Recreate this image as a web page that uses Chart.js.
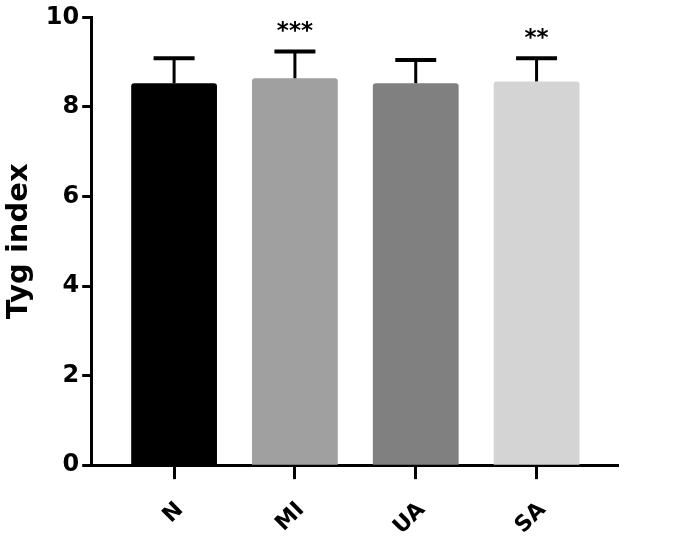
<!DOCTYPE html>
<html>
<head>
<meta charset="utf-8">
<script src="https://cdn.jsdelivr.net/npm/chart.js@4"></script>
<style>
html,body{margin:0;padding:0;background:#fff;}
#wrap{width:685px;height:545px;position:relative;}
</style>
</head>
<body>
<div id="wrap"><canvas id="c" width="685" height="545"></canvas></div>
<script>
const categories = ["N", "MI", "UA", "SA"];
const means = [8.53, 8.64, 8.53, 8.57];
const errUpper = [9.09, 9.24, 9.05, 9.09];
const significance = ["", "***", "", "**"];
const barColors = ["#000000", "#a0a0a0", "#808080", "#d4d4d4"];
const yTicks = [0, 2, 4, 6, 8, 10];

const FONT = "'DejaVu Sans', sans-serif";

const errorBarPlugin = {
  id: 'errorBars',
  afterDatasetsDraw(chart) {
    const ctx = chart.ctx;
    const meta = chart.getDatasetMeta(0);
    const yScale = chart.scales.y;
    ctx.save();
    ctx.strokeStyle = '#000';
    meta.data.forEach((bar, i) => {
      const x = bar.x;
      const yTop = yScale.getPixelForValue(errUpper[i]);
      const yBar = yScale.getPixelForValue(means[i]);
      ctx.lineWidth = 3;
      ctx.beginPath();
      ctx.moveTo(x, yBar);
      ctx.lineTo(x, yTop);
      ctx.stroke();
      ctx.lineWidth = 4;
      ctx.beginPath();
      ctx.moveTo(x - 20.5, yTop);
      ctx.lineTo(x + 20.5, yTop);
      ctx.stroke();
      if (significance[i]) {
        ctx.fillStyle = '#000';
        ctx.font = "bold 23px " + FONT;
        ctx.textAlign = 'center';
        ctx.textBaseline = 'alphabetic';
        ctx.fillText(significance[i], x, yTop - 13);
      }
    });
    ctx.restore();
  }
};

new Chart(document.getElementById('c'), {
  type: 'bar',
  data: {
    datasets: [{
      data: categories.map((c, i) => ({ x: i, y: means[i] })),
      backgroundColor: barColors,
      borderWidth: 0,
      borderRadius: 3,
      borderSkipped: 'bottom',
      categoryPercentage: 1,
      barPercentage: 0.71
    }]
  },
  options: {
    responsive: false,
    animation: false,
    devicePixelRatio: 1,
    layout: { padding: { top: -2, right: 67, left: 2, bottom: -13 } },
    plugins: { legend: { display: false }, tooltip: { enabled: false } },
    scales: {
      x: {
        type: 'linear',
        offset: false,
        min: -0.686,
        max: 3.674,
        afterBuildTicks(scale) { scale.ticks = categories.map((c, i) => ({ value: i })); },
        ticks: {
          callback: (v) => categories[v],
          autoSkip: false,
          maxRotation: 45,
          minRotation: 45,
          color: '#000',
          font: { family: FONT, size: 22, weight: 'bold' },
          padding: 18,
          labelOffset: 6
        },
        grid: { offset: false, drawOnChartArea: false, drawTicks: true, tickLength: 14, tickWidth: 3, tickColor: '#000' },
        border: { display: true, color: '#000', width: 3 }
      },
      y: {
        min: 0,
        max: 10,
        afterBuildTicks(scale) { scale.ticks = yTicks.map(v => ({ value: v })); },
        ticks: {
          color: '#000',
          font: { family: FONT, size: 24, weight: 'bold' },
          padding: 3
        },
        grid: { drawOnChartArea: false, drawTicks: true, tickLength: 9, tickWidth: 3, tickColor: '#000' },
        border: { display: true, color: '#000', width: 3 },
        title: {
          display: true,
          text: 'Tyg index',
          color: '#000',
          font: { family: FONT, size: 29, weight: 'bold' },
          padding: { top: 0, bottom: 6 }
        }
      }
    }
  },
  plugins: [errorBarPlugin]
});
</script>
</body>
</html>
